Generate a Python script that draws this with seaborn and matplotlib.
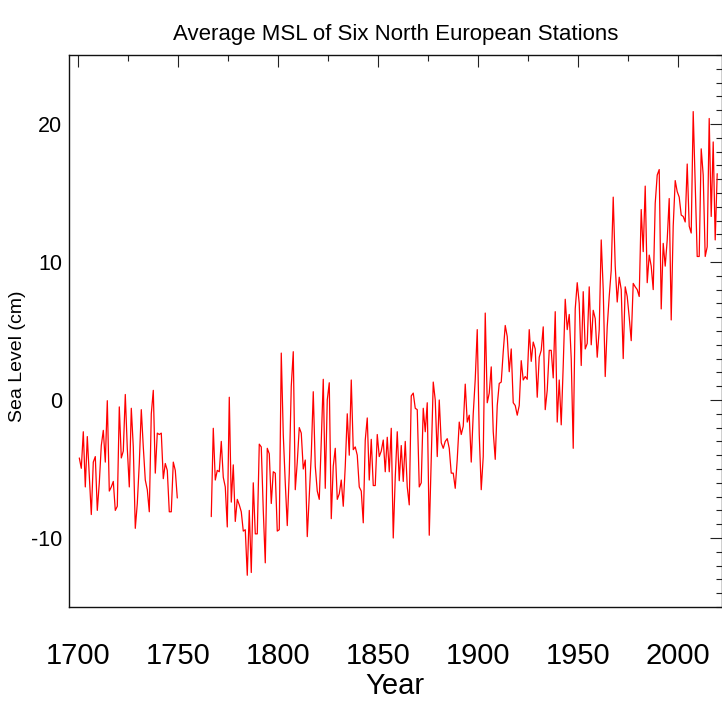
import numpy as np
import pandas as pd
import matplotlib
matplotlib.use("Agg")
import matplotlib.pyplot as plt
import seaborn as sns
from matplotlib.ticker import MultipleLocator

# ---- data (annual mean sea level, cm) ----
years_early = list(range(1700, 1750))
msl_early = [
    -4.2, -4.95, -2.3, -6.3, -2.65, -5.5, -8.3, -4.5, -4.1, -8.0,
    -6.0, -3.3, -2.2, -4.5, -0.05, -6.6, -6.3, -5.9, -8.0, -7.7,
    -0.5, -4.2, -3.7, 0.4, -3.5, -6.3, -0.6, -3.4, -9.3, -7.5,
    -4.6, -0.7, -3.4, -5.8, -6.5, -8.1, -1.0, 0.7, -5.3, -2.4,
    -2.5, -2.4, -5.7, -4.6, -5.1, -8.1, -8.1, -4.5, -5.1, -7.1,
]

years_late = list(range(1766, 2020))
msl_late = [
    # 1766-1775
    -8.45, -2.05, -5.8, -5.1, -5.2, -3.0, -5.6, -6.3, -9.2, 0.2,
    # 1776-1785
    -7.4, -4.7, -8.8, -7.2, -7.6, -8.1, -9.5, -9.4, -12.7, -8.0,
    # 1786-1795
    -12.5, -6.0, -9.7, -9.7, -3.2, -3.4, -8.0, -11.8, -3.5, -3.9,
    # 1796-1805
    -7.5, -5.2, -5.3, -9.5, -9.4, 3.4, -2.5, -6.0, -9.1, -5.3,
    # 1806-1815
    1.0, 3.5, -6.5, -4.5, -2.0, -2.4, -5.0, -4.35, -9.9, -7.0,
    # 1816-1825
    -4.0, 0.6, -4.8, -6.6, -7.2, -3.0, 1.5, -6.4, 0.0, 1.25,
    # 1826-1835
    -8.6, -4.8, -3.5, -7.2, -6.8, -5.8, -7.7, -4.8, -1.0, -4.0,
    # 1836-1845
    1.45, -3.6, -3.4, -4.0, -6.3, -6.6, -8.9, -2.9, -1.3, -5.8,
    # 1846-1855
    -2.85, -6.2, -6.2, -2.5, -4.1, -3.7, -2.9, -5.2, -2.7, -5.2,
    # 1856-1865
    -2.05, -10.0, -5.6, -2.3, -5.85, -3.3, -5.9, -3.0, -6.3, -7.6,
    # 1866-1875
    0.3, 0.5, -0.6, -0.7, -6.3, -6.0, -0.6, -2.3, -0.2, -9.8,
    # 1876-1885
    -4.1, 1.3, 0.0, -4.1, 0.0, -3.1, -3.5, -3.0, -2.8, -3.5,
    # 1886-1895
    -5.3, -5.3, -6.4, -4.3, -1.6, -2.5, -1.9, 1.15, -1.6, -1.1,
    # 1896-1905
    -4.5, -1.0, 1.5, 5.1, -2.5, -6.5, -4.1, 6.3, -0.2, 0.5,
    # 1906-1915
    2.4, -2.3, -4.3, -0.4, 1.2, 1.3, 3.5, 5.4, 4.6, 2.05,
    # 1916-1925
    3.7, -0.2, -0.4, -1.1, -0.4, 2.85, 1.45, 1.7, 1.5, 5.1,
    # 1926-1935
    2.8, 4.2, 3.7, 0.2, 3.1, 3.6, 5.3, -0.7, 0.7, 3.6,
    # 1936-1945
    3.6, 1.6, 6.4, -1.6, 1.45, -1.8, 2.5, 7.3, 5.1, 6.2,
    # 1946-1955
    3.0, -3.5, 6.6, 8.5, 7.0, 2.5, 7.85, 3.7, 4.1, 8.2,
    # 1956-1965
    4.0, 6.5, 5.9, 3.1, 5.1, 11.6, 8.0, 1.7, 5.3, 7.5,
    # 1966-1975
    9.4, 14.7, 9.7, 7.1, 8.9, 8.0, 3.0, 8.2, 7.5, 6.0,
    # 1976-1985
    4.3, 8.45, 8.2, 8.0, 7.5, 13.8, 10.75, 15.5, 8.5, 10.5,
    # 1986-1995
    9.7, 8.0, 14.25, 16.3, 16.7, 6.6, 11.35, 9.7, 11.6, 14.6,
    # 1996-2005
    5.8, 12.6, 15.9, 15.1, 14.7, 13.4, 13.3, 12.9, 17.1, 12.6,
    # 2006-2015
    12.1, 20.9, 15.7, 10.4, 10.4, 18.2, 16.3, 10.4, 11.1, 20.4,
    # 2016-2019
    13.3, 18.7, 11.6, 16.4,
]

title = "Average MSL of Six North European Stations"
xlabel = "Year"
ylabel = "Sea Level (cm)"

df = pd.concat([
    pd.DataFrame({"year": years_early, "msl": msl_early, "segment": 0}),
    pd.DataFrame({"year": years_late, "msl": msl_late, "segment": 1}),
], ignore_index=True)
# annual means plotted at mid-year
df["t"] = df["year"] + 0.5

sns.set_theme(style="white")
plt.rcParams["font.family"] = ["Liberation Sans", "DejaVu Sans"]
plt.rcParams["axes.unicode_minus"] = False

W, H = 722, 702
fig = plt.figure(figsize=(W / 100, H / 100), dpi=100)
left, right, top, bottom = 69, 721.6, 55, 607
ax = fig.add_axes([left / W, 1 - bottom / H, (right - left) / W, (bottom - top) / H])

sns.lineplot(data=df, x="t", y="msl", units="segment", estimator=None,
             color="#ff0000", linewidth=0.9, ax=ax, legend=False)

ax.set_xlim(1695.35, 2021.7)
ax.set_ylim(-15, 25)
ax.xaxis.set_major_locator(MultipleLocator(50))
ax.xaxis.set_minor_locator(MultipleLocator(25))
ax.yaxis.set_major_locator(MultipleLocator(10))
ax.yaxis.set_minor_locator(MultipleLocator(1))

ax.tick_params(which="both", direction="in", top=True, right=True,
               color="#222222", width=0.8, labelcolor="black")
ax.tick_params(axis="x", which="major", length=8.5, labelsize=21, pad=25)
ax.tick_params(axis="x", which="minor", length=4.5)
ax.tick_params(axis="y", which="major", length=9, labelsize=15.5, pad=5)
ax.tick_params(axis="y", which="minor", length=4.3)

for sp in ax.spines.values():
    sp.set_color("#111111")
    sp.set_linewidth(1.0)

ax.set_xlabel(xlabel, fontsize=21, labelpad=2, color="black")
ax.set_ylabel(ylabel, fontsize=14, va="center", color="black")
ax.yaxis.set_label_coords((18 - left) / (right - left), (bottom - 356) / (bottom - top))
ax.set_title(title, fontsize=16, pad=10.5, color="black")

fig.savefig("out.png", dpi=100)
